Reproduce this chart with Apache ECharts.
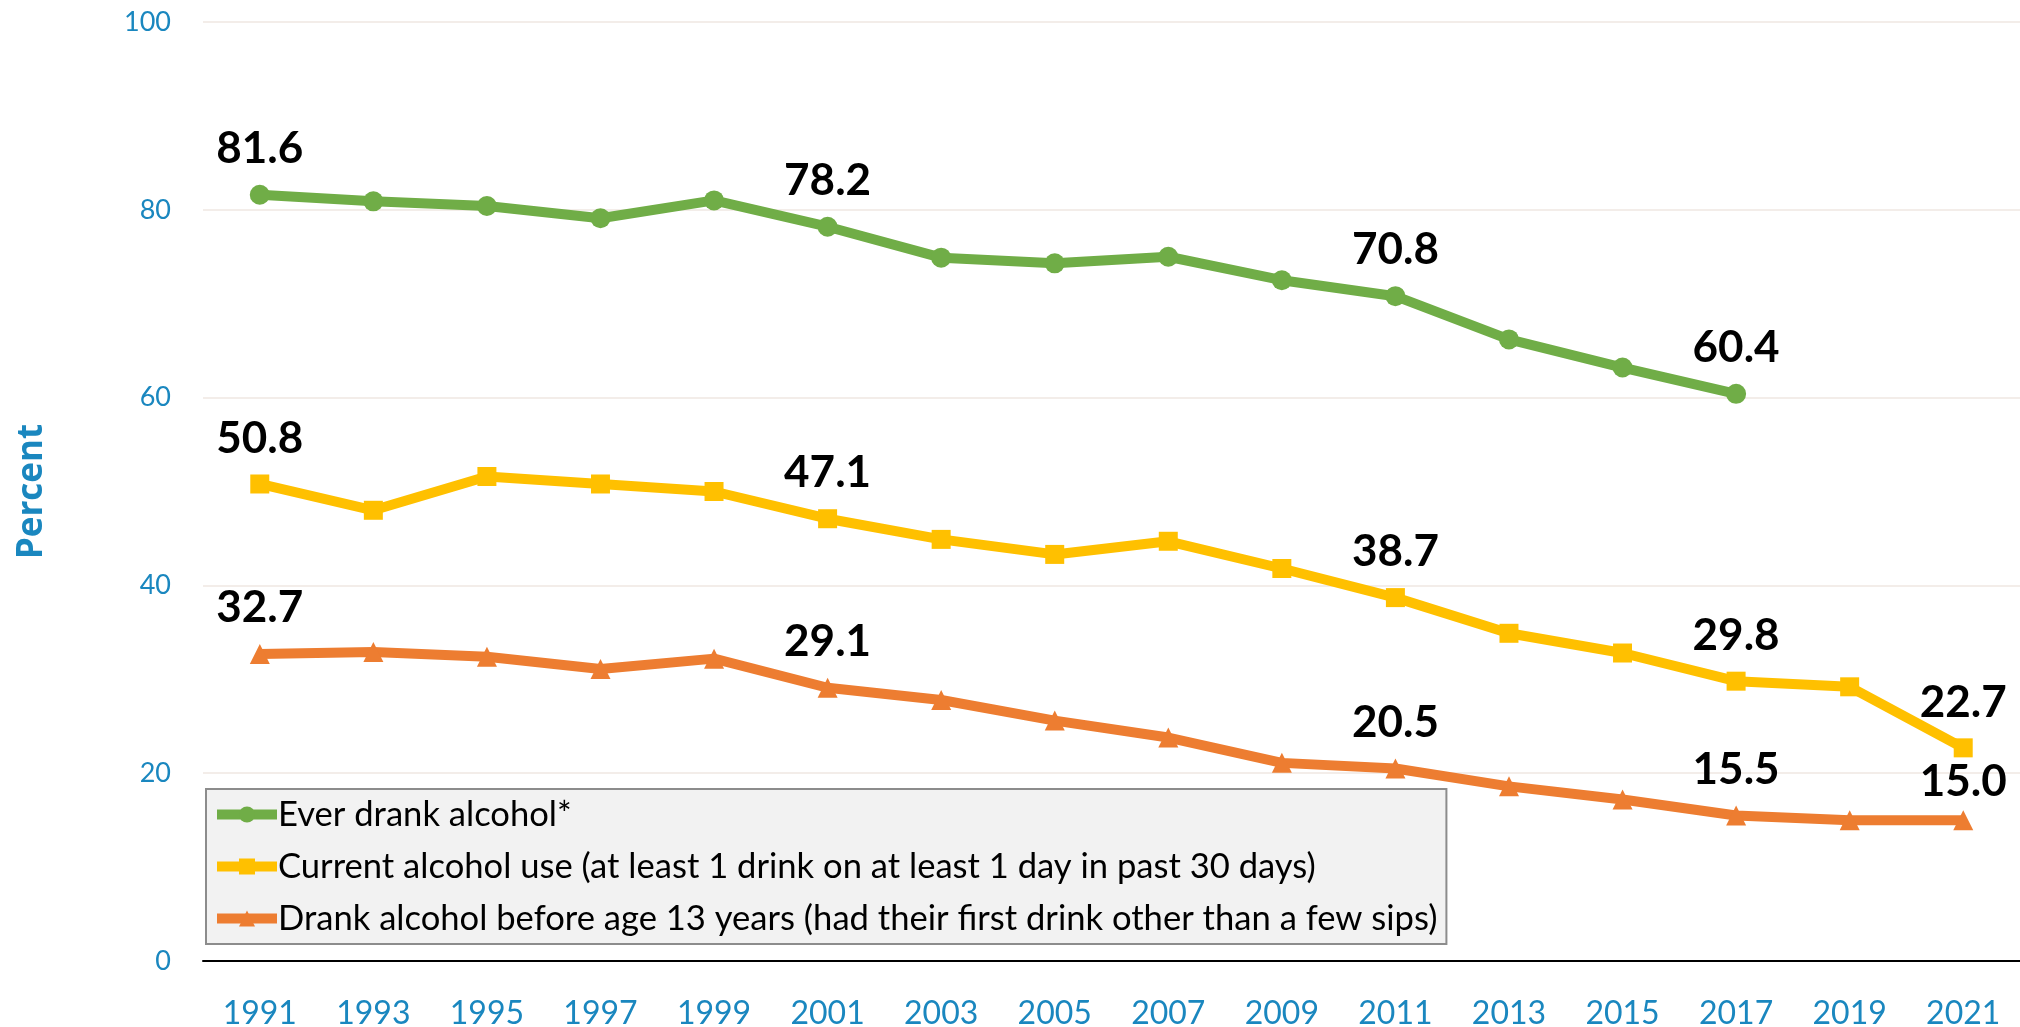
<!DOCTYPE html>
<html>
<head>
<meta charset="utf-8">
<script src="https://cdn.jsdelivr.net/npm/echarts@6/dist/echarts.min.js"></script>
<style>
  html, body { margin: 0; padding: 0; background: #fff; }
  #chart { width: 2020px; height: 1027px; }
</style>
</head>
<body>
<div id="chart"></div>
<script>
// ----------------------
// DATA
// ----------------------
const years = ["1991", "1993", "1995", "1997", "1999", "2001", "2003", "2005",
  "2007", "2009", "2011", "2013", "2015", "2017", "2019", "2021"];

const everDrank = [81.6, 80.9, 80.4, 79.1, 81.0, 78.2, 74.9, 74.3,
  75.0, 72.5, 70.8, 66.2, 63.2, 60.4, null, null];
const currentUse = [50.8, 48.0, 51.6, 50.8, 50.0, 47.1, 44.9, 43.3,
  44.7, 41.8, 38.7, 34.9, 32.8, 29.8, 29.2, 22.7];
const before13 = [32.7, 32.9, 32.4, 31.1, 32.2, 29.1, 27.8, 25.6,
  23.8, 21.1, 20.5, 18.6, 17.2, 15.5, 15.0, 15.0];

// which points carry a value label
const everLabelled = [0, 5, 10, 13];
const currentLabelled = [0, 5, 10, 13, 15];
const before13Labelled = [0, 5, 10, 13, 15];

const names = [
  "Ever drank alcohol*",
  "Current alcohol use (at least 1 drink on at least 1 day in past 30 days)",
  "Drank alcohol before age 13 years (had their first drink other than a few sips)",
];

const blue = "#1a87bf";

// ----------------------
// CHART
// ----------------------
const chart = echarts.init(document.getElementById("chart"));

function withLabels(values, labelled, closeIdx) {
  return values.map((v, i) => {
    if (!labelled.includes(i)) return v;
    return {
      value: v,
      label: { show: true, distance: i === closeIdx ? 6 : 14 },
    };
  });
}

const labelStyle = {
  position: "top",
  color: "#000",
  fontFamily: "Lato",
  fontWeight: "bold",
  fontSize: 44,
  formatter: (p) => p.value.toFixed(1),
};

function makeSeries(name, values, labelled, color, symbol, size, closeIdx) {
  return {
    name: name,
    type: "line",
    data: withLabels(values, labelled, closeIdx),
    symbol: symbol,
    symbolSize: size,
    lineStyle: { color: color, width: 10 },
    itemStyle: { color: color },
    label: Object.assign({ show: false }, labelStyle),
    emphasis: { disabled: true },
    animation: false,
  };
}

chart.setOption({
  backgroundColor: "#fff",
  grid: { left: 203, right: 0, top: 22, bottom: 66, outerBoundsMode: "none" },
  legend: {
    orient: "vertical",
    left: 206,
    top: 789,
    padding: [8, 9, 8, 6],
    itemGap: 17,
    itemWidth: 60,
    itemHeight: 20,
    backgroundColor: "#f2f2f2",
    borderColor: "#8c8c8c",
    borderWidth: 2,
    lineStyle: { width: 10 },
    textStyle: { fontFamily: "Lato", fontSize: 34.6, color: "#000", padding: [0, 0, 0, -4] },
    data: names,
  },
  xAxis: [
    {
      type: "category",
      data: years,
      boundaryGap: true,
      axisLine: { lineStyle: { color: "#000", width: 2 } },
      axisTick: { length: 11, lineStyle: { color: "#000", width: 2 } },
      axisLabel: { color: blue, fontFamily: "Lato", fontSize: 32, margin: 37 },
    },
    {
      type: "category",
      data: years,
      position: "bottom",
      boundaryGap: true,
      axisLine: { show: false },
      axisTick: { inside: true, length: 11, lineStyle: { color: "#000", width: 2 } },
      axisLabel: { show: false },
    },
  ],
  yAxis: {
    type: "value",
    min: 0,
    max: 100,
    interval: 20,
    name: "Percent",
    nameLocation: "middle",
    nameRotate: 90,
    nameGap: 153,
    nameTextStyle: { color: blue, fontFamily: "Open Sans", fontWeight: "bold", fontSize: 35 },
    axisLine: { show: false },
    axisTick: { show: false },
    axisLabel: { color: blue, fontFamily: "Lato", fontSize: 27, margin: 32 },
    splitLine: { lineStyle: { color: "#f3ede9", width: 2 } },
  },
  series: [
    makeSeries(names[0], everDrank, everLabelled, "#70ad47", "circle", 20, -1),
    makeSeries(names[1], currentUse, currentLabelled, "#ffc000", "rect", 19, -1),
    makeSeries(names[2], before13, before13Labelled, "#ed7d31", "triangle", 20, 15),
  ],
});
</script>
</body>
</html>
